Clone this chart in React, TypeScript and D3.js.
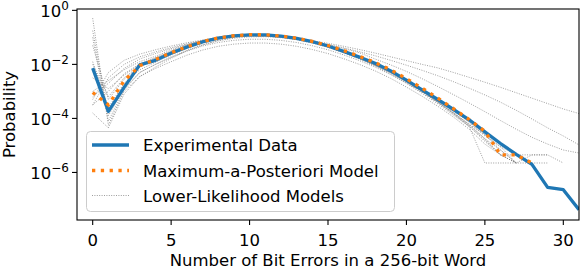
import React, { useEffect, useRef } from 'react';
import * as d3 from 'd3';

// number of bit errors per 256-bit word (x categories)
const bitErrors = [0, 1, 2, 3, 4, 5, 6, 7, 8, 9, 10, 11, 12, 13, 14, 15, 16, 17, 18, 19, 20, 21, 22, 23, 24, 25, 26, 27, 28, 29, 30, 31];

// probabilities, stored as log10 values
const experimentalLog10 = [-2.14, -3.74, -2.85, -2.02, -1.85, -1.59, -1.36, -1.17, -1.03, -0.945, -0.905, -0.91, -0.955, -1.04, -1.16, -1.32, -1.52, -1.73, -1.96, -2.24, -2.58, -2.94, -3.3, -3.67, -4.05, -4.5, -4.93, -5.33, -5.7, -6.55, -6.64, -7.38];
const mapModelLog10 = [-3.04, -3.5, -2.61, -2.05, -1.82, -1.57, -1.35, -1.16, -1.02, -0.94, -0.9, -0.905, -0.95, -1.03, -1.15, -1.3, -1.49, -1.7, -1.93, -2.2, -2.53, -2.88, -3.25, -3.64, -4.04, -4.48, -5.35, -5.35, -5.65];

const lowerModelA = [-0.29, -4.25, -3.0, -2.45, -2.15, -1.9, -1.66, -1.47, -1.33, -1.25, -1.21, -1.21, -1.25, -1.33, -1.45, -1.6, -1.79, -2.0, -2.24, -2.52, -2.84, -3.18, -3.55, -3.95, -4.4, -4.95, -5.35, -5.65];
const lowerModelB = [-0.75, -3.9, -2.9, -2.3, -2.0, -1.74, -1.51, -1.32, -1.19, -1.11, -1.07, -1.07, -1.11, -1.19, -1.31, -1.46, -1.65, -1.86, -2.1, -2.38, -2.69, -3.03, -3.4, -3.8, -4.25, -4.75, -5.35, -5.65, -5.65];
const lowerModelC = [-1.0, -4.1, -2.95, -2.3, -2.0, -1.72, -1.48, -1.28, -1.13, -1.03, -0.98, -0.975, -1.01, -1.09, -1.21, -1.37, -1.57, -1.79, -2.04, -2.33, -2.66, -3.02, -3.41, -3.83, -4.28, -4.85, -5.35, -5.65];
const lowerModelD = [-3.3, -2.3, -1.85, -1.62, -1.46, -1.32, -1.2, -1.1, -1.02, -0.97, -0.95, -0.96, -0.99, -1.05, -1.13, -1.22, -1.33, -1.45, -1.58, -1.72, -1.86, -2.0, -2.13, -2.3, -2.48, -2.66, -2.85, -3.05, -3.25, -3.45, -3.65, -3.82];
const lowerModelE = [-3.5, -2.5, -2.0, -1.72, -1.54, -1.38, -1.24, -1.12, -1.03, -0.97, -0.94, -0.95, -0.99, -1.06, -1.15, -1.26, -1.39, -1.53, -1.68, -1.85, -2.03, -2.22, -2.42, -2.64, -2.88, -3.13, -3.4, -3.7, -4.02, -4.35, -4.65, -4.98];
const lowerModelF = [-3.2, -2.7, -2.15, -1.8, -1.6, -1.42, -1.27, -1.14, -1.04, -0.97, -0.935, -0.94, -0.98, -1.05, -1.15, -1.27, -1.41, -1.57, -1.8, -2.02, -2.26, -2.53, -2.82, -3.12, -3.43, -3.75, -4.08, -4.4, -4.7, -4.95, -5.17, -5.28];
const lowerModelG = [-1.3, -3.3, -2.55, -2.1, -1.8, -1.54, -1.32, -1.14, -1.01, -0.935, -0.9, -0.91, -0.96, -1.05, -1.18, -1.35, -1.55, -1.78, -2.03, -2.31, -2.63, -2.99, -3.37, -3.78, -4.22, -4.75, -5.17, -5.65];
const lowerModelH = [-2.5, -2.9, -2.4, -2.0, -1.76, -1.51, -1.3, -1.13, -1.0, -0.93, -0.9, -0.91, -0.96, -1.05, -1.18, -1.34, -1.54, -1.76, -2.01, -2.29, -2.61, -2.96, -3.33, -3.72, -4.12, -4.6, -5.05, -5.35, -5.35, -5.35, -5.65];
const lowerModelI = [-3.8, -4.35, -3.1, -2.45, -2.1, -1.78, -1.5, -1.28, -1.11, -1.0, -0.94, -0.93, -0.96, -1.04, -1.16, -1.32, -1.52, -1.75, -2.01, -2.3, -2.64, -3.0, -3.4, -3.83, -4.3, -5.65, -5.65, -5.65];
const lowerModelJ = [-1.9, -3.6, -2.7, -2.2, -1.92, -1.64, -1.4, -1.2, -1.05, -0.955, -0.91, -0.91, -0.95, -1.03, -1.15, -1.31, -1.5, -1.72, -1.97, -2.26, -2.58, -2.93, -3.3, -3.7, -4.15, -4.65, -5.05, -5.65, -5.35, -5.35];
const lowerModelK = [-3.0, -2.6, -2.2, -1.9, -1.7, -1.47, -1.27, -1.11, -0.99, -0.925, -0.895, -0.905, -0.955, -1.04, -1.16, -1.32, -1.51, -1.73, -1.97, -2.25, -2.56, -2.9, -3.27, -3.66, -4.05, -4.45, -4.95, -5.35, -5.65];
const lowerModelL = [-2.0, -3.2, -2.5, -2.05, -1.82, -1.56, -1.34, -1.16, -1.02, -0.94, -0.905, -0.915, -0.965, -1.055, -1.18, -1.35, -1.56, -1.8, -2.06, -2.36, -2.7, -3.07, -3.46, -3.88, -4.3, -4.8, -5.35, -5.35, -5.65, -5.65];
const lowerModelM = [-3.5, -3.0, -2.35, -1.98, -1.75, -1.52, -1.31, -1.14, -1.01, -0.935, -0.9, -0.91, -0.96, -1.05, -1.17, -1.33, -1.53, -1.76, -2.02, -2.31, -2.64, -3.0, -3.39, -3.8, -4.22, -4.6, -5.17, -5.65];

const lowerModels = [lowerModelA, lowerModelB, lowerModelC, lowerModelD, lowerModelE, lowerModelF, lowerModelG, lowerModelH, lowerModelI, lowerModelJ, lowerModelK, lowerModelL, lowerModelM];

const xTicks = [0, 5, 10, 15, 20, 25, 30];
const yTickExponents = [0, -2, -4, -6];
const legendLabels = ['Experimental Data', 'Maximum-a-Posteriori Model', 'Lower-Likelihood Models'];

const WIDTH = 581;
const HEIGHT = 271;
const FONT = '"DejaVu Sans", sans-serif';
const FS = 16.5;
const BLUE = '#1f77b4';
const ORANGE = '#ff7f0e';

export default function App() {
  const svgRef = useRef<SVGSVGElement>(null);

  useEffect(() => {
    if (!svgRef.current) return;
    const svg = d3.select(svgRef.current);
    svg.selectAll('*').remove();

    const left = 77, right = 579, top = 9, bottom = 220;

    const x = d3.scaleLinear().domain([-1, 31]).range([left, right]);
    const y = d3.scaleLog().domain([10 ** -7.76, 10 ** 0.05]).range([bottom, top]);

    svg.append('defs').append('clipPath').attr('id', 'plot-clip')
      .append('rect')
      .attr('x', left).attr('y', top)
      .attr('width', right - left).attr('height', bottom - top);

    const line = d3.line<number>()
      .x((_, i) => x(bitErrors[i]))
      .y(v => y(10 ** v));

    const plot = svg.append('g').attr('clip-path', 'url(#plot-clip)');

    // lower-likelihood models
    plot.selectAll('path.lower')
      .data(lowerModels)
      .enter()
      .append('path')
      .attr('class', 'lower')
      .attr('d', d => line(d))
      .attr('fill', 'none')
      .attr('stroke', '#7f7f7f')
      .attr('stroke-width', 0.9)
      .attr('stroke-dasharray', '1,1.4')
      .attr('opacity', 0.85);

    plot.append('path')
      .datum(experimentalLog10)
      .attr('d', line)
      .attr('fill', 'none')
      .attr('stroke', BLUE)
      .attr('stroke-width', 3.3)
      .attr('stroke-linejoin', 'round');

    plot.append('path')
      .datum(mapModelLog10)
      .attr('d', line)
      .attr('fill', 'none')
      .attr('stroke', ORANGE)
      .attr('stroke-width', 3.3)
      .attr('stroke-dasharray', '3.3,5.5');

    // frame
    svg.append('rect')
      .attr('x', left).attr('y', top)
      .attr('width', right - left).attr('height', bottom - top)
      .attr('fill', 'none')
      .attr('stroke', '#000')
      .attr('stroke-width', 1.1);

    // x ticks
    const xt = svg.append('g');
    xTicks.forEach(t => {
      xt.append('line')
        .attr('x1', x(t)).attr('x2', x(t))
        .attr('y1', bottom).attr('y2', bottom + 5)
        .attr('stroke', '#000').attr('stroke-width', 1.1);
      xt.append('text')
        .attr('x', x(t)).attr('y', bottom + 25.5)
        .attr('text-anchor', 'middle')
        .attr('font-family', FONT).attr('font-size', FS)
        .text(t);
    });

    // y ticks
    const yt = svg.append('g');
    yTickExponents.forEach(e => {
      const py = y(10 ** e);
      yt.append('line')
        .attr('x1', left - 5).attr('x2', left)
        .attr('y1', py).attr('y2', py)
        .attr('stroke', '#000').attr('stroke-width', 1.1);
      const txt = yt.append('text')
        .attr('x', left - 8).attr('y', py + 7)
        .attr('text-anchor', 'end')
        .attr('font-family', FONT).attr('font-size', FS);
      txt.append('tspan').text('10');
      txt.append('tspan')
        .attr('dy', -7)
        .attr('font-size', 12)
        .text(e === 0 ? '0' : '\u2212' + Math.abs(e));
    });

    svg.append('text')
      .attr('x', (left + right) / 2).attr('y', 266)
      .attr('text-anchor', 'middle')
      .attr('font-family', FONT).attr('font-size', FS)
      .text('Number of Bit Errors in a 256-bit Word');

    svg.append('text')
      .attr('transform', `translate(15,${(top + bottom) / 2}) rotate(-90)`)
      .attr('text-anchor', 'middle')
      .attr('font-family', FONT).attr('font-size', FS)
      .text('Probability');

    // legend
    const lg = svg.append('g');
    lg.append('rect')
      .attr('x', 86.5).attr('y', 131.5)
      .attr('width', 308).attr('height', 80)
      .attr('rx', 4)
      .attr('fill', '#fff').attr('fill-opacity', 0.8)
      .attr('stroke', '#cccccc').attr('stroke-width', 1);

    const rowY = [145, 170.5, 195.5];
    const styles = [
      { stroke: BLUE, width: 3.3, dash: null as string | null, op: 1 },
      { stroke: ORANGE, width: 3.3, dash: '3.3,5.5', op: 1 },
      { stroke: '#7f7f7f', width: 0.9, dash: '1,1.4', op: 0.85 },
    ];
    legendLabels.forEach((label, i) => {
      const s = styles[i];
      lg.append('line')
        .attr('x1', 92).attr('x2', 129)
        .attr('y1', rowY[i]).attr('y2', rowY[i])
        .attr('stroke', s.stroke)
        .attr('stroke-width', s.width)
        .attr('stroke-dasharray', s.dash)
        .attr('opacity', s.op);
      lg.append('text')
        .attr('x', 143).attr('y', rowY[i] + 6)
        .attr('font-family', FONT).attr('font-size', FS)
        .text(label);
    });
  }, []);

  return (
    <svg
      ref={svgRef}
      width={WIDTH}
      height={HEIGHT}
      style={{ position: 'absolute', left: 0, top: 0, background: '#fff' }}
    />
  );
}
